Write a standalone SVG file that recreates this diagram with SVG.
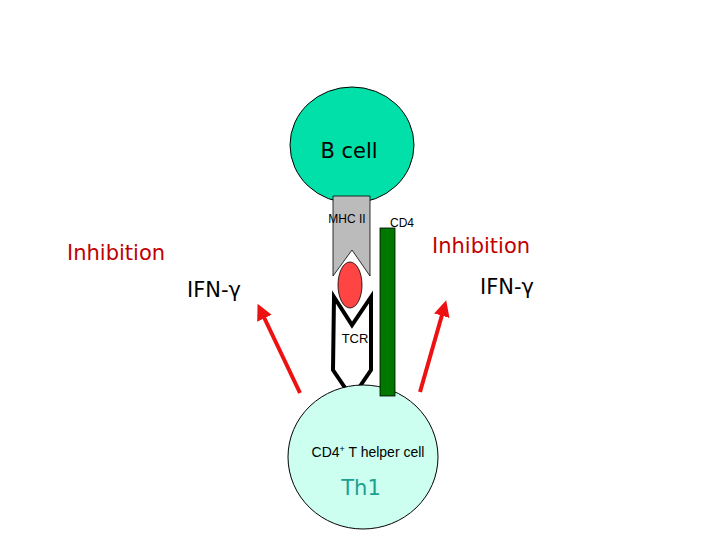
<svg xmlns="http://www.w3.org/2000/svg" width="720" height="540" viewBox="0 0 720 540">
<style>
.v{font-family:"DejaVu Sans",sans-serif}
.a{font-family:"Liberation Sans",Arial,sans-serif}
.inh{fill:#c00000;font-size:21px}
.ifn{fill:#000;font-size:21px}
.arr{stroke:#ee1111;stroke-width:4;fill:none;marker-end:url(#ah)}
</style>
<defs><marker id="ah" markerWidth="4" markerHeight="4" refX="2" refY="2" orient="auto"><path d="M0,0 L4,2 L0,4 z" fill="#ee1111"/></marker></defs>
<rect width="720" height="540" fill="#fff"/>
<g id="bcell"><ellipse cx="352" cy="145" rx="62" ry="58" fill="#00e0a8" stroke="#000" stroke-width="1"/><text x="349" y="158" class="v" font-size="21" text-anchor="middle">B cell</text></g>
<g id="mhc"><path d="M333,196 L370,196 L370,276 L352,250 L333,276 Z" fill="#bbb" stroke="#000" stroke-width="0.8"/><text x="347" y="223" class="a" font-size="12" text-anchor="middle">MHC II</text></g>
<g id="peptide"><ellipse cx="350" cy="285" rx="12" ry="23" fill="#f44" stroke="#000" stroke-width="0.8"/></g>
<g id="tcr"><path d="M334,297 L352,325 L371,297 L371,370 L352,398 L333,370 Z" fill="#fff" stroke="#000" stroke-width="4" stroke-linejoin="miter"/><text x="355" y="343" class="a" font-size="13" text-anchor="middle">TCR</text></g>
<g id="tcell"><ellipse cx="363" cy="457" rx="75" ry="72" fill="#ccfff0" stroke="#000" stroke-width="1"/><text x="368" y="457" class="a" font-size="14" text-anchor="middle">CD4<tspan font-size="9" dy="-5">+</tspan><tspan dy="5"> T helper cell</tspan></text><text x="361" y="495" class="v" font-size="21" fill="#20a090" text-anchor="middle">Th1</text></g>
<g id="cd4"><rect x="380" y="228" width="15" height="168" fill="#007800" stroke="#000" stroke-width="0.8"/><text x="390" y="227" class="a" font-size="12">CD4</text></g>
<g id="connectors"><line x1="300" y1="393" x2="261" y2="311" class="arr"/><line x1="420" y1="392" x2="444" y2="308" class="arr"/></g>
<g id="labels">
<text x="67" y="260" class="v inh">Inhibition</text>
<text x="432" y="253" class="v inh">Inhibition</text>
<text x="187" y="297" class="v ifn">IFN-γ</text>
<text x="480" y="294" class="v ifn">IFN-γ</text>
</g>
</svg>
